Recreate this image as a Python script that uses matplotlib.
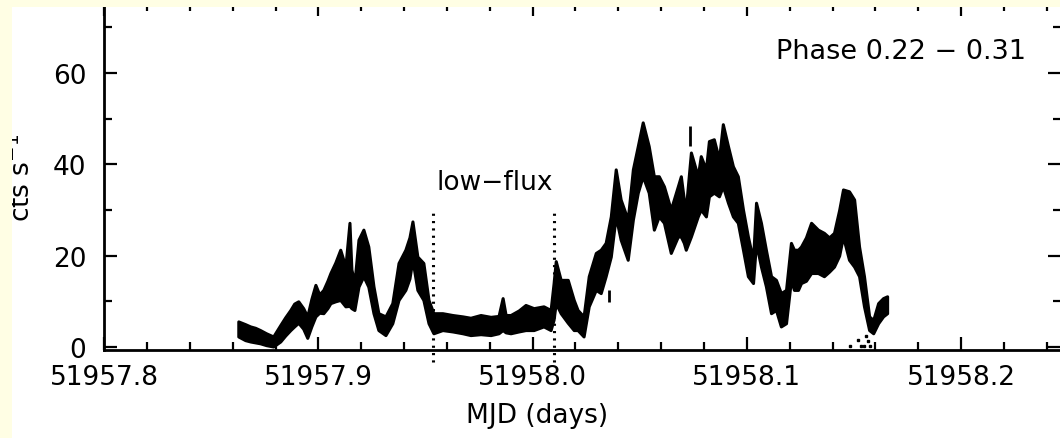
import numpy as np
import matplotlib
matplotlib.use("Agg")
import matplotlib.pyplot as plt
from matplotlib.patches import Rectangle
from matplotlib.ticker import MultipleLocator, FormatStrFormatter

plt.rcParams['font.family'] = ['DejaVu Sans']
plt.rcParams['mathtext.default'] = 'regular'

# light curve: time (MJD), lower and upper edge of the band (cts/s)
mjd = [51957.8626, 51957.8658, 51957.8682, 51957.8705, 51957.8728, 51957.8756, 51957.8789,
       51957.8822, 51957.8845, 51957.8869, 51957.8887, 51957.8906, 51957.8929, 51957.8948,
       51957.8967, 51957.8986, 51957.9004, 51957.9023, 51957.9042, 51957.9056, 51957.9079,
       51957.9102, 51957.9126, 51957.9145, 51957.9154, 51957.9168, 51957.9187, 51957.9210,
       51957.9233, 51957.9257, 51957.9280, 51957.9313, 51957.9345, 51957.9374, 51957.9406,
       51957.9425, 51957.9439, 51957.9462, 51957.9490, 51957.9514, 51957.9537, 51957.9579,
       51957.9626, 51957.9673, 51957.9710, 51957.9757, 51957.9804, 51957.9841, 51957.9860,
       51957.9874, 51957.9897, 51957.9935, 51957.9967, 51958.0005, 51958.0051, 51958.0084,
       51958.0098, 51958.0108, 51958.0131, 51958.0164, 51958.0192, 51958.0210, 51958.0238,
       51958.0262, 51958.0295, 51958.0318, 51958.0341, 51958.0365, 51958.0388, 51958.0411,
       51958.0444, 51958.0468, 51958.0491, 51958.0514, 51958.0542, 51958.0566, 51958.0589,
       51958.0613, 51958.0645, 51958.0678, 51958.0692, 51958.0706, 51958.0715, 51958.0739,
       51958.0771, 51958.0785, 51958.0809, 51958.0823, 51958.0846, 51958.0870, 51958.0888,
       51958.0912, 51958.0935, 51958.0958, 51958.0982, 51958.1005, 51958.1029, 51958.1043,
       51958.1066, 51958.1089, 51958.1113, 51958.1136, 51958.1159, 51958.1183, 51958.1206,
       51958.1220, 51958.1239, 51958.1253, 51958.1276, 51958.1300, 51958.1332, 51958.1360,
       51958.1384, 51958.1407, 51958.1431, 51958.1449, 51958.1477, 51958.1501, 51958.1524,
       51958.1547, 51958.1571, 51958.1590, 51958.1613, 51958.1636, 51958.1655]
rate_lo = [2.3, 1.5, 1.2, 1.0, 0.8, 0.4, 0.1,
           1.2, 2.5, 3.7, 4.5, 5.3, 4.0, 2.0,
           4.5, 6.7, 7.5, 7.4, 8.5, 9.6, 10.0,
           10.3, 8.9, 9.0, 8.5, 8.1, 13.2, 15.5,
           13.2, 7.4, 3.7, 2.6, 5.2, 10.3, 12.5,
           15.0, 19.1, 12.5, 10.3, 5.2, 3.0, 3.7,
           3.4, 3.0, 2.6, 2.8, 2.6, 3.0, 3.7,
           3.2, 3.0, 3.4, 3.7, 3.7, 4.5, 3.7,
           6.0, 9.6, 7.4, 5.3, 3.7, 3.7, 2.3,
           8.9, 12.5, 11.8, 15.5, 19.8, 28.6, 23.5,
           19.1, 27.9, 33.8, 37.4, 33.8, 25.7, 28.6,
           27.2, 20.6, 24.2, 24.2, 22.8, 21.3, 24.2,
           28.6, 30.1, 28.6, 33.0, 33.8, 33.0, 35.2,
           31.6, 28.6, 27.2, 21.3, 15.5, 14.0, 22.8,
           17.6, 13.3, 7.4, 8.1, 4.5, 5.2, 14.7,
           12.5, 12.5, 14.0, 14.5, 16.2, 16.2, 15.5,
           16.5, 17.6, 20.0, 24.2, 19.1, 17.6, 15.5,
           8.9, 3.7, 3.0, 5.2, 6.7, 7.4]
rate_hi = [5.6, 5.0, 4.5, 4.2, 3.7, 3.0, 2.3,
           4.8, 6.5, 8.1, 9.5, 10.0, 8.5, 6.7,
           10.5, 13.6, 11.5, 12.5, 14.5, 16.2, 18.5,
           21.3, 17.6, 27.2, 17.0, 14.0, 23.5, 25.7,
           22.0, 13.3, 7.4, 6.7, 9.6, 18.4, 21.3,
           24.0, 27.5, 19.8, 18.4, 10.3, 7.4, 7.4,
           7.0, 6.7, 6.4, 7.0, 6.6, 6.8, 10.7,
           7.0, 7.0, 8.0, 9.2, 8.5, 8.9, 8.1,
           14.0, 18.8, 14.7, 14.7, 10.3, 8.1, 6.7,
           15.5, 20.6, 21.3, 22.8, 28.6, 38.9, 32.3,
           27.9, 38.9, 44.0, 49.2, 44.0, 37.4, 37.4,
           35.2, 30.1, 35.2, 37.4, 32.3, 30.1, 42.6,
           37.4, 41.8, 38.9, 45.1, 45.5, 41.1, 48.8,
           44.0, 39.6, 37.4, 30.1, 24.2, 19.1, 31.6,
           27.2, 21.3, 15.5, 14.7, 11.8, 12.5, 22.8,
           21.3, 21.3, 22.0, 24.0, 27.2, 25.7, 25.0,
           24.0, 25.0, 30.0, 34.5, 34.1, 32.3, 22.0,
           15.5, 6.7, 5.9, 9.6, 10.7, 11.1]

# isolated points off the band
iso_mjd = [51958.0356, 51958.0734]
iso_lo = [9.9, 44.0]
iso_hi = [12.5, 48.4]

# faint dotted points near zero at the end
low_mjd = [51958.1481, 51958.1519, 51958.1533, 51958.1547, 51958.1557, 51958.1566, 51958.1575]
low_rate = [0.3, 1.6, 0.2, 0.2, 2.4, 1.3, 0.2]

# low-flux interval
lowflux_edges = [51957.9533, 51958.0098]

fig = plt.figure(figsize=(10.6, 4.39), dpi=100)
fig.patch.set_facecolor('white')
ax = fig.add_axes([0.0983, 0.2005, 0.9027, 0.7904])

ax.fill_between(mjd, rate_lo, rate_hi, color='black', lw=2.2, edgecolor='black')
ax.vlines(iso_mjd, iso_lo, iso_hi, color='black', lw=2)
ax.plot(low_mjd, low_rate, 's', color='black', ms=1.8)

for t in lowflux_edges:
    ax.plot([t, t], [-3.3, 29.7], color='black', lw=2.2,
            linestyle=(0, (0.7, 1.7)), clip_on=False)
ax.text(51957.9825, 36.1, 'low\u2212flux', ha='center', va='center', fontsize=19)
ax.text(51958.1720, 64.8, 'Phase 0.22 \u2212 0.31', ha='center', va='center', fontsize=19.5)

ax.set_xlim(51957.8, 51958.2467)
ax.set_ylim(-0.66, 75.35)

ax.xaxis.set_major_locator(MultipleLocator(0.1))
ax.xaxis.set_minor_locator(MultipleLocator(0.02))
ax.xaxis.set_major_formatter(FormatStrFormatter('%.1f'))
ax.yaxis.set_major_locator(MultipleLocator(20))
ax.yaxis.set_minor_locator(MultipleLocator(10))

ax.tick_params(which='both', direction='in', top=True, right=True, width=1.6,
               labelsize=19, colors='black')
ax.tick_params(which='major', length=9.5)
ax.tick_params(which='minor', length=5.5)
ax.tick_params(axis='x', which='major', pad=10)
ax.tick_params(axis='y', which='major', pad=13)
for s in ax.spines.values():
    s.set_linewidth(2)
ax.spines['right'].set_visible(False)
ax.spines['top'].set_visible(False)

ax.set_xlabel('MJD (days)', fontsize=19)
ax.xaxis.set_label_coords(0.452, -0.15)
ax.set_ylabel('cts s$^{-1}$', fontsize=19)
ax.yaxis.set_label_coords(-0.071, 0.5)

# pale yellow frame on the left and top edges
yellow = '#fffee4'
fig.add_artist(Rectangle((0, 0), 12 / 1060, 1, transform=fig.transFigure,
                         facecolor=yellow, edgecolor='none', zorder=10))
fig.add_artist(Rectangle((0, 1 - 8 / 439), 1, 8 / 439, transform=fig.transFigure,
                         facecolor=yellow, edgecolor='none', zorder=10))

fig.savefig('out.png', dpi=100)
